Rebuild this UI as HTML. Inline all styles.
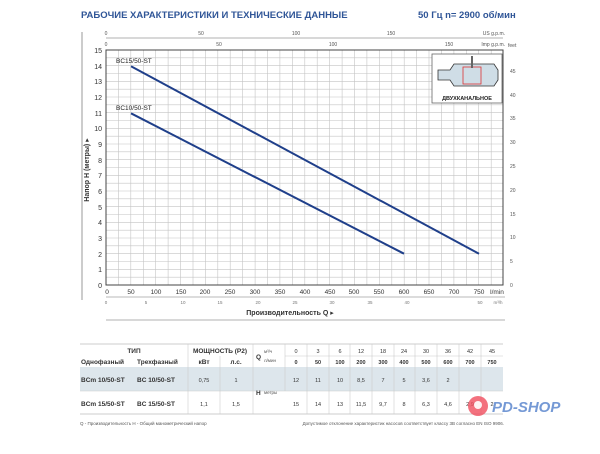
<!DOCTYPE html>
<html><head><meta charset="utf-8"><style>
body{margin:0;background:#fff;width:600px;height:449px;overflow:hidden;font-family:"Liberation Sans","DejaVu Sans",sans-serif}
</style></head><body>
<svg width="600" height="449" xmlns="http://www.w3.org/2000/svg" font-family="Liberation Sans, DejaVu Sans, sans-serif">
<text x="81" y="18" font-size="9.5" font-weight="bold" fill="#2f5597">РАБОЧИЕ ХАРАКТЕРИСТИКИ И ТЕХНИЧЕСКИЕ ДАННЫЕ</text>
<text x="418" y="18" font-size="9.5" font-weight="bold" fill="#2f5597">50 Гц    n= 2900 об/мин</text>
<line x1="82" y1="32" x2="82" y2="300" stroke="#999" stroke-width="1"/>
<g stroke="#c4c4c4" stroke-width="0.6">
<path d="M118.4 50V285M130.8 50V285M143.3 50V285M155.7 50V285M168.1 50V285M180.5 50V285M193 50V285M205.4 50V285M217.8 50V285M230.2 50V285M242.7 50V285M255.1 50V285M267.5 50V285M279.9 50V285M292.4 50V285M304.8 50V285M317.2 50V285M329.6 50V285M342.1 50V285M354.5 50V285M366.9 50V285M379.3 50V285M391.8 50V285M404.2 50V285M416.6 50V285M429 50V285M441.5 50V285M453.9 50V285M466.3 50V285M478.7 50V285M491.2 50V285"/>
<path d="M106 57.8H503M106 65.7H503M106 73.5H503M106 81.3H503M106 89.2H503M106 97H503M106 104.8H503M106 112.7H503M106 120.5H503M106 128.3H503M106 136.2H503M106 144H503M106 151.8H503M106 159.7H503M106 167.5H503M106 175.3H503M106 183.2H503M106 191H503M106 198.8H503M106 206.7H503M106 214.5H503M106 222.3H503M106 230.2H503M106 238H503M106 245.8H503M106 253.7H503M106 261.5H503M106 269.3H503M106 277.2H503"/>
</g>
<rect x="106" y="50" width="397" height="235" fill="none" stroke="#444" stroke-width="1"/>
<line x1="106" y1="38" x2="503" y2="38" stroke="#666" stroke-width="0.6"/>
<text x="106" y="35" font-size="5" text-anchor="middle" fill="#555">0</text><text x="201" y="35" font-size="5" text-anchor="middle" fill="#555">50</text><text x="296" y="35" font-size="5" text-anchor="middle" fill="#555">100</text><text x="391" y="35" font-size="5" text-anchor="middle" fill="#555">150</text><text x="505" y="35" font-size="5" text-anchor="end" fill="#555">US g.p.m.</text>
<text x="106" y="46" font-size="5" text-anchor="middle" fill="#555">0</text><text x="219" y="46" font-size="5" text-anchor="middle" fill="#555">50</text><text x="333" y="46" font-size="5" text-anchor="middle" fill="#555">100</text><text x="449" y="46" font-size="5" text-anchor="middle" fill="#555">150</text><text x="505" y="46" font-size="5" text-anchor="end" fill="#555">Imp g.p.m.</text>
<g font-size="7" fill="#333" text-anchor="end">
<text x="102" y="53">15</text><text x="102" y="69">14</text><text x="102" y="84">13</text><text x="102" y="100">12</text><text x="102" y="116">11</text><text x="102" y="131">10</text><text x="102" y="147">9</text><text x="102" y="163">8</text><text x="102" y="178">7</text><text x="102" y="194">6</text><text x="102" y="210">5</text><text x="102" y="225">4</text><text x="102" y="241">3</text><text x="102" y="257">2</text><text x="102" y="272">1</text><text x="102" y="288">0</text>
</g>
<text transform="translate(89,170) rotate(-90)" font-size="7" font-weight="bold" fill="#333" text-anchor="middle">Напор H (метры) ▸</text>
<g font-size="5" fill="#555">
<text x="508" y="47">feet</text><text x="510" y="73">45</text><text x="510" y="97">40</text><text x="510" y="120">35</text><text x="510" y="144">30</text><text x="510" y="168">25</text><text x="510" y="192">20</text><text x="510" y="216">15</text><text x="510" y="239">10</text><text x="510" y="263">5</text><text x="510" y="287">0</text>
</g>
<g font-size="6.5" fill="#333" text-anchor="middle">
<text x="107" y="294">0</text><text x="131" y="294">50</text><text x="156" y="294">100</text><text x="181" y="294">150</text><text x="205" y="294">200</text><text x="230" y="294">250</text><text x="255" y="294">300</text><text x="280" y="294">350</text><text x="305" y="294">400</text><text x="330" y="294">450</text><text x="354" y="294">500</text><text x="379" y="294">550</text><text x="404" y="294">600</text><text x="429" y="294">650</text><text x="454" y="294">700</text><text x="479" y="294">750</text><text x="497" y="294">l/min</text>
</g>
<line x1="106" y1="297" x2="505" y2="297" stroke="#777" stroke-width="0.6"/>
<g font-size="4.5" fill="#777" text-anchor="middle">
<text x="106" y="304">0</text><text x="146" y="304">5</text><text x="183" y="304">10</text><text x="220" y="304">15</text><text x="258" y="304">20</text><text x="295" y="304">25</text><text x="332" y="304">30</text><text x="370" y="304">35</text><text x="407" y="304">40</text><text x="480" y="304">50</text><text x="498" y="304">m³/h</text>
</g>
<text x="290" y="315" font-size="7" font-weight="bold" fill="#333" text-anchor="middle">Производительность Q ▸</text>
<line x1="106" y1="320" x2="505" y2="320" stroke="#999" stroke-width="0.8"/>
<line x1="131" y1="66.3" x2="479" y2="253.7" stroke="#1f3f8a" stroke-width="2"/>
<line x1="131" y1="113.3" x2="404" y2="253.7" stroke="#1f3f8a" stroke-width="2"/>
<text x="116" y="63" font-size="6.5" fill="#222">BC15/50-ST</text>
<text x="116" y="110" font-size="6.5" fill="#222">BC10/50-ST</text>
<rect x="432" y="54" width="70" height="49" fill="#fff" stroke="#666" stroke-width="0.8"/>
<path d="M438 70h12l4-6h40l4 6v10l-4 6h-40l-4-6h-12z" fill="#cfdde6" stroke="#333" stroke-width="0.8"/>
<rect x="463" y="67" width="18" height="17" fill="none" stroke="#d33" stroke-width="0.8"/>
<line x1="472" y1="56" x2="472" y2="68" stroke="#666" stroke-width="2"/>
<text x="467" y="100" font-size="5.5" font-weight="bold" fill="#222" text-anchor="middle">ДВУХКАНАЛЬНОЕ</text>
<line x1="80" y1="344" x2="503" y2="344" stroke="#bbb" stroke-width="0.8"/>
<rect x="80" y="367" width="423" height="24" fill="#dde6ec"/>
<line x1="80" y1="391" x2="503" y2="391" stroke="#ccc" stroke-width="0.6"/>
<line x1="80" y1="414" x2="503" y2="414" stroke="#bbb" stroke-width="0.8"/>
<g stroke="#ccc" stroke-width="0.6">
<line x1="188" y1="344" x2="188" y2="414"/><line x1="253" y1="344" x2="253" y2="414"/><line x1="220" y1="356" x2="220" y2="414"/><line x1="285" y1="344" x2="285" y2="391"/>
<line x1="307" y1="344" x2="307" y2="414"/><line x1="329" y1="344" x2="329" y2="414"/><line x1="350" y1="344" x2="350" y2="414"/><line x1="372" y1="344" x2="372" y2="414"/><line x1="394" y1="344" x2="394" y2="414"/><line x1="415" y1="344" x2="415" y2="414"/><line x1="437" y1="344" x2="437" y2="414"/><line x1="459" y1="344" x2="459" y2="414"/><line x1="481" y1="344" x2="481" y2="414"/>
<line x1="285" y1="356" x2="503" y2="356"/>
</g>
<g font-size="6.5" fill="#333" font-weight="bold">
<text x="134" y="353" text-anchor="middle">ТИП</text>
<text x="220" y="353" text-anchor="middle">МОЩНОСТЬ (P2)</text>
<text x="81" y="364">Однофазный</text><text x="137" y="364">Трехфазный</text>
<text x="204" y="364" text-anchor="middle">кВт</text><text x="236" y="364" text-anchor="middle">л.с.</text>
<text x="81" y="382">BCm 10/50-ST</text><text x="137" y="382">BC 10/50-ST</text>
<text x="81" y="406">BCm 15/50-ST</text><text x="137" y="406">BC 15/50-ST</text>
<text x="256" y="359">Q</text><text x="256" y="395">H</text>
</g>
<g font-size="4.5" fill="#555"><text x="264" y="353">м³/ч</text><text x="264" y="362">л/мин</text><text x="264" y="394">метры</text></g>
<g font-size="5.5" fill="#333" text-anchor="middle">
<text x="204" y="382">0,75</text><text x="236" y="382">1</text><text x="204" y="406">1,1</text><text x="236" y="406">1,5</text>
<text x="296" y="353">0</text><text x="318" y="353">3</text><text x="340" y="353">6</text><text x="361" y="353">12</text><text x="383" y="353">18</text><text x="404" y="353">24</text><text x="426" y="353">30</text><text x="448" y="353">36</text><text x="470" y="353">42</text><text x="492" y="353">45</text>
<text x="296" y="382">12</text><text x="318" y="382">11</text><text x="340" y="382">10</text><text x="361" y="382">8,5</text><text x="383" y="382">7</text><text x="404" y="382">5</text><text x="426" y="382">3,6</text><text x="448" y="382">2</text>
<text x="296" y="406">15</text><text x="318" y="406">14</text><text x="340" y="406">13</text><text x="361" y="406">11,5</text><text x="383" y="406">9,7</text><text x="404" y="406">8</text><text x="426" y="406">6,3</text><text x="448" y="406">4,6</text><text x="470" y="406">2,9</text><text x="492" y="406">2</text>
</g>
<g font-size="5.5" fill="#333" text-anchor="middle" font-weight="bold">
<text x="296" y="364">0</text><text x="318" y="364">50</text><text x="340" y="364">100</text><text x="361" y="364">200</text><text x="383" y="364">300</text><text x="404" y="364">400</text><text x="426" y="364">500</text><text x="448" y="364">600</text><text x="470" y="364">700</text><text x="492" y="364">750</text>
</g>
<text x="80" y="425" font-size="4.5" fill="#555">Q - Производительность   H - Общий манометрический напор</text>
<text x="504" y="425" font-size="4.5" fill="#555" text-anchor="end">Допустимое отклонение характеристик насосов соответствует классу 3B согласно EN ISO 9906.</text>
<circle cx="478" cy="406" r="10" fill="#f04e5e" opacity="0.8"/>
<circle cx="478" cy="405" r="4" fill="#fff" opacity="0.9"/>
<text x="492" y="412" font-size="15" font-weight="bold" font-style="italic" fill="#3b6fc4" opacity="0.7">PD-SHOP</text>
</svg>
</body></html>
